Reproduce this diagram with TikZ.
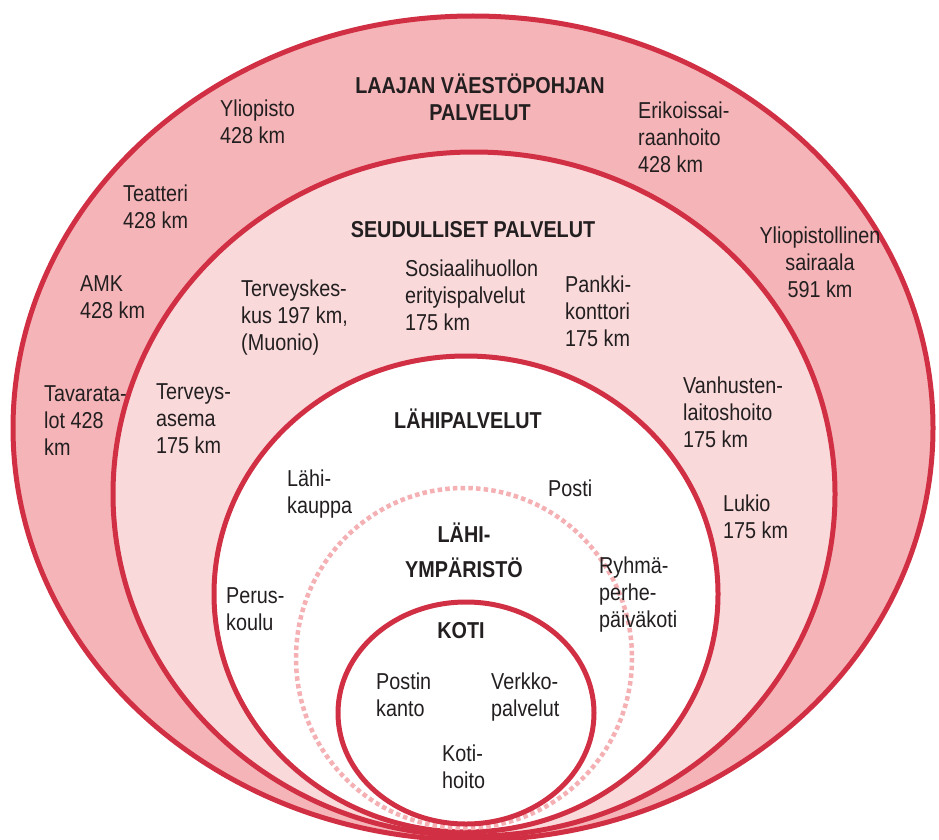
\documentclass[tikz,border=0pt]{standalone}
\usepackage{fontspec}
\setmainfont{Liberation Sans}[FakeStretch=0.86]
\definecolor{ringline}{HTML}{D12F43}
\definecolor{outerfill}{HTML}{F5B5B8}
\definecolor{midfill}{HTML}{F9D9DA}
\definecolor{dotline}{HTML}{F5B0B4}
\definecolor{ink}{HTML}{231F20}
\begin{document}
\begin{tikzpicture}[x=1pt,y=-1pt,
  ring/.style={draw=ringline, line width=5pt},
  dotring/.style={draw=dotline, line width=4.5pt, dash pattern=on 4.5pt off 3.2pt},
  lbl/.style={inner sep=0pt, text=ink, align=left, anchor=north west,
    font=\fontsize{23}{27}\selectfont},
  clbl/.style={lbl, align=center, anchor=north},
  head/.style={inner sep=0pt, text=ink, align=center, anchor=base,
    font=\bfseries\fontsize{23}{27}\selectfont}]
\useasboundingbox (0,0) rectangle (939,840);

% nested service zones
\path[ring, fill=outerfill] (473,428) ellipse [x radius=460, y radius=412];
\path[ring, fill=midfill] (474,494) ellipse [x radius=361, y radius=342];
\path[ring, fill=white] (466,594) ellipse [x radius=252, y radius=238];
\path[dotring] (464,658) ellipse [x radius=168, y radius=170];
\path[ring, fill=white] (466,713) ellipse [x radius=128, y radius=111];

% zone headings (base = baseline of the last line)
\node[head] (laajat) at (480,121) {LAAJAN VÄESTÖPOHJAN\\PALVELUT};
\node[head] (seutu) at (473,237) {SEUDULLISET PALVELUT};
\node[head] (lahi) at (468,428) {LÄHIPALVELUT};
\node[head, font=\bfseries\fontsize{23}{35}\selectfont] (ymparisto) at (464,577) {LÄHI-\\YMPÄRISTÖ};
\node[head] (koti) at (461,638) {KOTI};

% population-wide services
\node[lbl] (yliopisto) at (220,100) {Yliopisto\\428 km};
\node[lbl] (erikois) at (638,102) {Erikoissai-\\raanhoito\\428 km};
\node[lbl] (teatteri) at (123,185) {Teatteri\\428 km};
\node[clbl] (ylsairaala) at (820,227) {Yliopistollinen\\sairaala\\591 km};
\node[lbl] (amk) at (80,275) {AMK\\428 km};
\node[lbl] (tavaratalot) at (44,385) {Tavarata-\\lot 428\\km};

% regional services
\node[lbl] (terveyskeskus) at (241,280) {Terveyskes-\\kus 197 km,\\(Muonio)};
\node[lbl] (sosiaali) at (405,260) {Sosiaalihuollon\\erityispalvelut\\175 km};
\node[lbl] (pankki) at (565,276) {Pankki-\\konttori\\175 km};
\node[lbl] (terveysasema) at (156,383) {Terveys-\\asema\\175 km};
\node[lbl] (vanhus) at (683,377) {Vanhusten-\\laitoshoito\\175 km};
\node[lbl] (lukio) at (723,495) {Lukio\\175 km};

% local services
\node[lbl] (kauppa) at (287,470) {Lähi-\\kauppa};
\node[lbl] (posti) at (548,480) {Posti};
\node[lbl] (paivakoti) at (599,557) {Ryhmä-\\perhe-\\päiväkoti};
\node[lbl] (peruskoulu) at (226,587) {Perus-\\koulu};

% home
\node[lbl] (postinkanto) at (376,673) {Postin\\kanto};
\node[lbl] (verkko) at (491,673) {Verkko-\\palvelut};
\node[lbl] (kotihoito) at (442,745) {Koti-\\hoito};
\end{tikzpicture}
\end{document}
